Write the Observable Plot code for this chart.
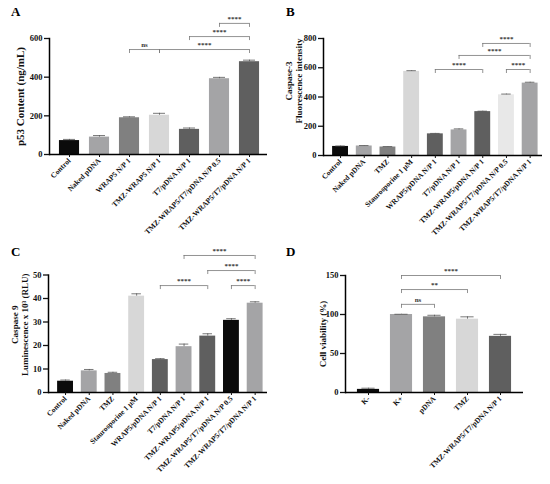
<!DOCTYPE html>
<html>
<head>
<meta charset="utf-8">
<script src="https://cdn.jsdelivr.net/npm/d3@7"></script>
<script src="https://cdn.jsdelivr.net/npm/@observablehq/plot@0.6"></script>
<style>
  body { margin: 0; background: #fff; }
  #fig { position: relative; width: 550px; height: 484px; overflow: hidden; background: #fff;
         font-family: "Liberation Serif", serif; font-weight: bold; }
  .panel { position: absolute; width: 275px; height: 242px; }
  .letter { position: absolute; font-size: 13px; font-weight: bold; line-height: 1; }
</style>
</head>
<body>
<div id="fig"></div>
<script>
// ---------- data ----------
const catsA = ["Control", "Naked pDNA", "WRAP5 N/P 1", "TMZ-WRAP5 N/P 1", "T7/pDNA N/P 1",
               "TMZ-WRAP5/T7/pDNA N/P 0.5", "TMZ-WRAP5/T7/pDNA N/P 1"];
const valuesA = [72, 90, 190, 203, 130, 392, 480];
const errorsA = [6, 8, 5, 10, 7, 7, 8];
const ticksA = [0, 200, 400, 600];
const bracketsA = [[5, 6, "****", 678], [4, 6, "****", 610], [3, 6, "****", 543], [2, 3, "ns", 543]];

const catsB = ["Control", "Naked pDNA", "TMZ", "Staurosporine 1 μM", "WRAP5/pDNA N/P 1", "T7/pDNA N/P 1",
               "TMZ-WRAP5/pDNA N/P 1", "TMZ-WRAP5/T7/pDNA N/P 0.5", "TMZ-WRAP5/T7/pDNA N/P 1"];
const valuesB = [62, 65, 58, 575, 148, 175, 300, 415, 495];
const errorsB = [3, 3, 3, 5, 3, 7, 3, 5, 6];
const ticksB = [0, 200, 400, 600, 800];
const bracketsB = [[6, 8, "****", 766], [5, 8, "****", 684], [4, 6, "****", 588], [7, 8, "****", 588]];

const catsC = catsB;
const valuesC = [4.8, 9.2, 8.1, 41, 14, 19.5, 24, 30.7, 38];
const errorsC = [0.5, 0.6, 0.5, 1.0, 0.4, 1.1, 1.0, 0.7, 0.6];
const ticksC = [0, 10, 20, 30, 40, 50];
const bracketsC = [[5, 8, "****", 58.3], [6, 8, "****", 51.9], [4, 6, "****", 45.5], [7, 8, "****", 45.5]];

const catsD = ["K-", "K+", "pDNA", "TMZ", "TMZ-WRAP5/T7/pDNA N/P 1"];
const valuesD = [4, 100, 97, 94, 72];
const errorsD = [1.5, 0.3, 2, 3, 2.5];
const ticksD = [0, 50, 100, 150];
const bracketsD = [[1, 4, "****", 150], [1, 3, "**", 132], [1, 2, "ns", 113]];

// ---------- styles ----------
const K = "#0b0b0b", G1 = "#a4a4a6", G2 = "#808080", L1 = "#d7d7d7", D1 = "#5f5f5f", L2 = "#e8e8e8";
const colorsA = [K, G1, G2, L1, D1, G1, D1];
const colorsB = [K, G1, G2, L1, D1, G1, D1, L2, G1];
const colorsC = [K, G1, G2, L1, D1, G1, D1, K, G1];
const colorsD = [K, G1, G2, L1, D1];

function drawPanel(cfg) {
  const {cats, values, errors, colors, ticks, brackets, title, tdx, tdy, tfs, ml, mr, mt, mb, range} = cfg;
  const n = cats.length;
  const rows = cats.map((c, i) => ({i, c, v: values[i], e: errors[i], fill: colors[i]}));
  const ymax = ticks[ticks.length - 1];
  const H = 242;
  const t = 4 * ymax / (H - mt - mb);
  const br = brackets.map(([a, b, label, y]) => ({a, b, label, y}));
  const hw = 0.335, cw = 0.2;
  return Plot.plot({
    width: 275, height: H,
    marginLeft: ml, marginRight: mr, marginTop: mt, marginBottom: mb,
    style: {fontFamily: "Liberation Serif, serif", fontWeight: "bold", background: "white", overflow: "visible", color: "#111"},
    x: {type: "linear", domain: [-0.5, n - 0.5], range},
    y: {domain: [0, ymax]},
    color: {type: "identity"},
    marks: [
      Plot.rectY(rows, {x1: d => d.i - hw, x2: d => d.i + hw, y1: 0, y2: "v", fill: "fill"}),
      Plot.ruleX(rows, {x: "i", y1: "v", y2: d => d.v + d.e, stroke: "#555", strokeWidth: 0.8}),
      Plot.ruleY(rows, {y: d => d.v + d.e, x1: d => d.i - cw, x2: d => d.i + cw, stroke: "#555", strokeWidth: 0.8}),
      Plot.ruleY(br, {y: "y", x1: "a", x2: "b", stroke: "#777", strokeWidth: 0.8}),
      Plot.ruleX(br, {x: "a", y1: d => d.y - t, y2: "y", stroke: "#777", strokeWidth: 0.8}),
      Plot.ruleX(br, {x: "b", y1: d => d.y - t, y2: "y", stroke: "#777", strokeWidth: 0.8}),
      Plot.text(br, {x: d => (d.a + d.b) / 2, y: "y", text: "label", dy: -2.5, lineAnchor: "bottom",
                     fontSize: 7, fill: "#333"}),
      Plot.ruleY([0], {stroke: "#000", strokeWidth: 1.5}),
      Plot.frame({anchor: "left", stroke: "#000", strokeWidth: 1.5}),
      Plot.axisY({ticks, tickSize: 5, tickPadding: 2, tickFormat: d => String(d), label: null,
                  fontSize: 8.5, strokeWidth: 1.3}),
      Plot.axisX({ticks: d3.range(n), tickFormat: i => cats[i], tickRotate: -45, tickSize: 3,
                  tickPadding: 2, label: null, fontSize: 7.5, strokeWidth: 1}),
      Plot.text([title], {frameAnchor: "left", text: d => d, rotate: -90, dx: tdx, dy: tdy,
                          fontSize: tfs, lineHeight: 1.15, textAnchor: "middle", lineAnchor: "middle", fill: "#111"})
    ]
  });
}

const panels = [
  {left: 0, top: 0, letter: "A",
   cfg: {cats: catsA, values: valuesA, errors: errorsA, colors: colorsA, ticks: ticksA, brackets: bracketsA,
         title: "p53 Content (ng/mL)", tdx: -30, tdy: 0, tfs: 11, ml: 49, mr: 8, mt: 38, mb: 88, range: [54, 264]}},
  {left: 275, top: 0, letter: "B",
   cfg: {cats: catsB, values: valuesB, errors: errorsB, colors: colorsB, ticks: ticksB, brackets: bracketsB,
         title: "Caspase-3\nFluorescence intensity", tdx: -30, tdy: -16, tfs: 9, ml: 48, mr: 8, mt: 38, mb: 87, range: [53.2, 266.5]}},
  {left: 0, top: 242, letter: "C",
   cfg: {cats: catsC, values: valuesC, errors: errorsC, colors: colorsC, ticks: ticksC, brackets: bracketsC,
         title: "Caspase 9\nLuminescence x 10³ (RLU)", tdx: -29, tdy: -9, tfs: 9, ml: 48, mr: 8, mt: 32.5, mb: 92, range: [53.2, 266.5]}},
  {left: 275, top: 242, letter: "D",
   cfg: {cats: catsD, values: valuesD, errors: errorsD, colors: colorsD, ticks: ticksD, brackets: bracketsD,
         title: "Cell viability (%)", tdx: -23, tdy: 0, tfs: 9, ml: 70, mr: 27, mt: 33, mb: 92, range: [76.5, 241.5]}}
];

const fig = document.getElementById("fig");
for (const p of panels) {
  const div = document.createElement("div");
  div.className = "panel";
  div.style.left = p.left + "px";
  div.style.top = p.top + "px";
  div.appendChild(drawPanel(p.cfg));
  fig.appendChild(div);
  const lab = document.createElement("div");
  lab.className = "letter";
  lab.textContent = p.letter;
  lab.style.left = (p.left + 11) + "px";
  lab.style.top = (p.top + (p.top ? 3 : 5)) + "px";
  fig.appendChild(lab);
}
</script>
</body>
</html>
